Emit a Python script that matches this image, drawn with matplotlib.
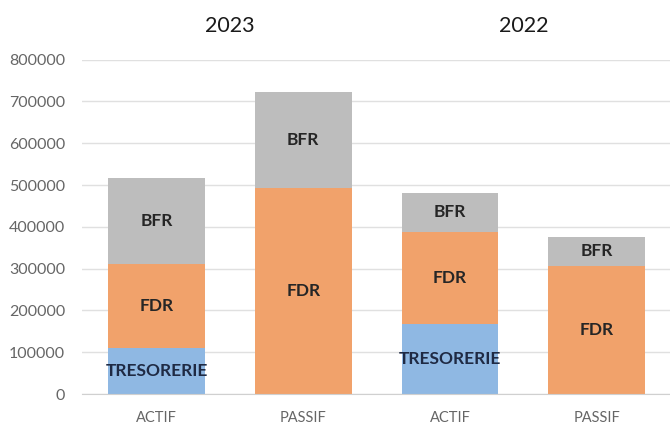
import matplotlib
matplotlib.use("Agg")
import matplotlib.pyplot as plt
import numpy as np

categories = ["ACTIF", "PASSIF", "ACTIF", "PASSIF"]
years = ["2023", "2022"]
tresorerie = [110000, 0, 168000, 0]
fdr = [201000, 493000, 220000, 307000]
bfr = [206000, 230000, 93000, 69000]
yticks = [0, 100000, 200000, 300000, 400000, 500000, 600000, 700000, 800000]

plt.rcParams['font.family'] = ['Lato', 'DejaVu Sans']

fig = plt.figure(figsize=(6.70, 4.26), dpi=100)
ax = fig.add_axes([0.122, 0.075, 0.878, 0.785])

x = np.arange(len(categories))
w = 0.66
c_blue = "#8fb8e3"
c_orange = "#f1a26b"
c_grey = "#bdbdbd"

t = np.array(tresorerie)
f = np.array(fdr)
b = np.array(bfr)
ax.bar(x, t, w, color=c_blue, zorder=2)
ax.bar(x, f, w, bottom=t, color=c_orange, zorder=2)
ax.bar(x, b, w, bottom=t + f, color=c_grey, zorder=2)

lbl = 12.5
for i in range(len(categories)):
    if t[i] > 0:
        ax.text(x[i], t[i] / 2, "TRESORERIE", ha="center", va="center",
                fontsize=lbl, fontweight="bold", color="#1f2a44", zorder=3)
    ax.text(x[i], t[i] + f[i] / 2, "FDR", ha="center", va="center",
            fontsize=lbl, fontweight="bold", color="#262626", zorder=3)
    ax.text(x[i], t[i] + f[i] + b[i] / 2, "BFR", ha="center", va="center",
            fontsize=lbl, fontweight="bold", color="#262626", zorder=3)

ax.set_ylim(0, 800000)
ax.set_xlim(-0.51, 3.5)
ax.set_yticks(yticks)
ax.set_yticklabels([str(v) for v in yticks])
ax.set_xticks(x)
ax.set_xticklabels(categories)
ax.tick_params(axis="both", length=0, colors="#666666", labelsize=10.5)
ax.tick_params(axis="y", labelsize=11.5, pad=12)
ax.tick_params(axis="x", pad=12.5)
ax.grid(axis="y", color="#e0e0e0", linewidth=1, zorder=0)
for s in ["top", "right", "left"]:
    ax.spines[s].set_visible(False)
ax.spines["bottom"].set_color("#d0d0d0")

for k, yr in enumerate(years):
    cx = (x[2 * k] + x[2 * k + 1]) / 2
    ax.text(cx, 1.10, yr, transform=ax.get_xaxis_transform(), ha="center",
            va="center", fontsize=15.5, color="#1a1a1a")

fig.savefig("out.png", dpi=100)
